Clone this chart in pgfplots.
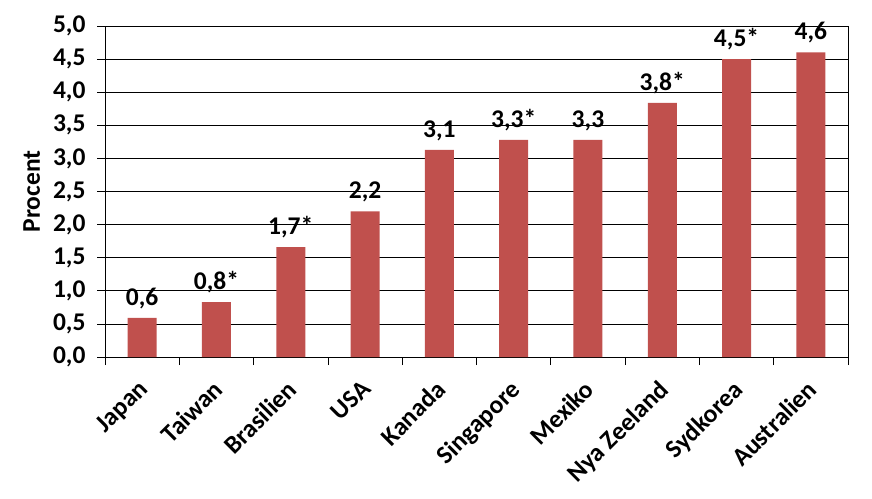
\documentclass[border=0pt]{standalone}
\usepackage{fontspec}
\setmainfont{Carlito}
\usepackage{pgfplots}
\pgfplotsset{compat=1.18}
\definecolor{barred}{HTML}{C0504D}
\begin{document}
\begin{tikzpicture}[x=1pt,y=1pt]
\path[use as bounding box] (0,0) rectangle (872,498);
\begin{axis}[
  at={(105pt,141pt)}, anchor=south west,
  scale only axis, width=743pt, height=331pt,
  xmin=0.5, xmax=10.5, ymin=0, ymax=5,
  ytick={0,0.5,...,5},
  xtick={1,...,10},
  xticklabels={Japan,Taiwan,Brasilien,USA,Kanada,Singapore,Mexiko,Nya Zeeland,Sydkorea,Australien},
  minor xtick={0.5,1.5,...,10.5},
  major x tick style={draw=none},
  minor tick length=8pt, major tick length=8pt,
  tick align=outside,
  xtick pos=bottom, ytick pos=left,
  ymajorgrids, grid style={black, line width=0.8pt},
  axis line style={black, line width=0.8pt},
  tick style={black, line width=0.8pt},
  /pgf/number format/assume math mode=true,
  /pgf/number format/use comma, /pgf/number format/fixed, /pgf/number format/fixed zerofill, /pgf/number format/precision=1,
  yticklabel style={font=\fontsize{25.5}{30}\selectfont\bfseries, xshift=-8pt},
  xticklabel style={font=\fontsize{25.5}{30}\selectfont\bfseries, rotate=45, anchor=north east, inner sep=0pt, xshift=-13pt, yshift=-6pt},
  ylabel={Procent}, ylabel style={font=\fontsize{25.5}{30}\selectfont\bfseries, at={(ticklabel cs:0.5)}, anchor=south, yshift=6pt},
  ybar, bar width=29pt,
  point meta=explicit symbolic,
  nodes near coords, nodes near coords style={font=\fontsize{25.5}{30}\selectfont\bfseries, anchor=south, inner sep=0pt, yshift=9pt},
  clip=false,
]
\addplot[fill=barred, draw=none] table[meta=lab] {
x y lab
1 0.59 0,6
2 0.83 0,8*
3 1.66 1,7*
4 2.20 2,2
5 3.13 3,1
6 3.28 3,3*
7 3.28 3,3
8 3.84 3,8*
9 4.50 4,5*
10 4.60 4,6
};
\end{axis}
\end{tikzpicture}
\end{document}
